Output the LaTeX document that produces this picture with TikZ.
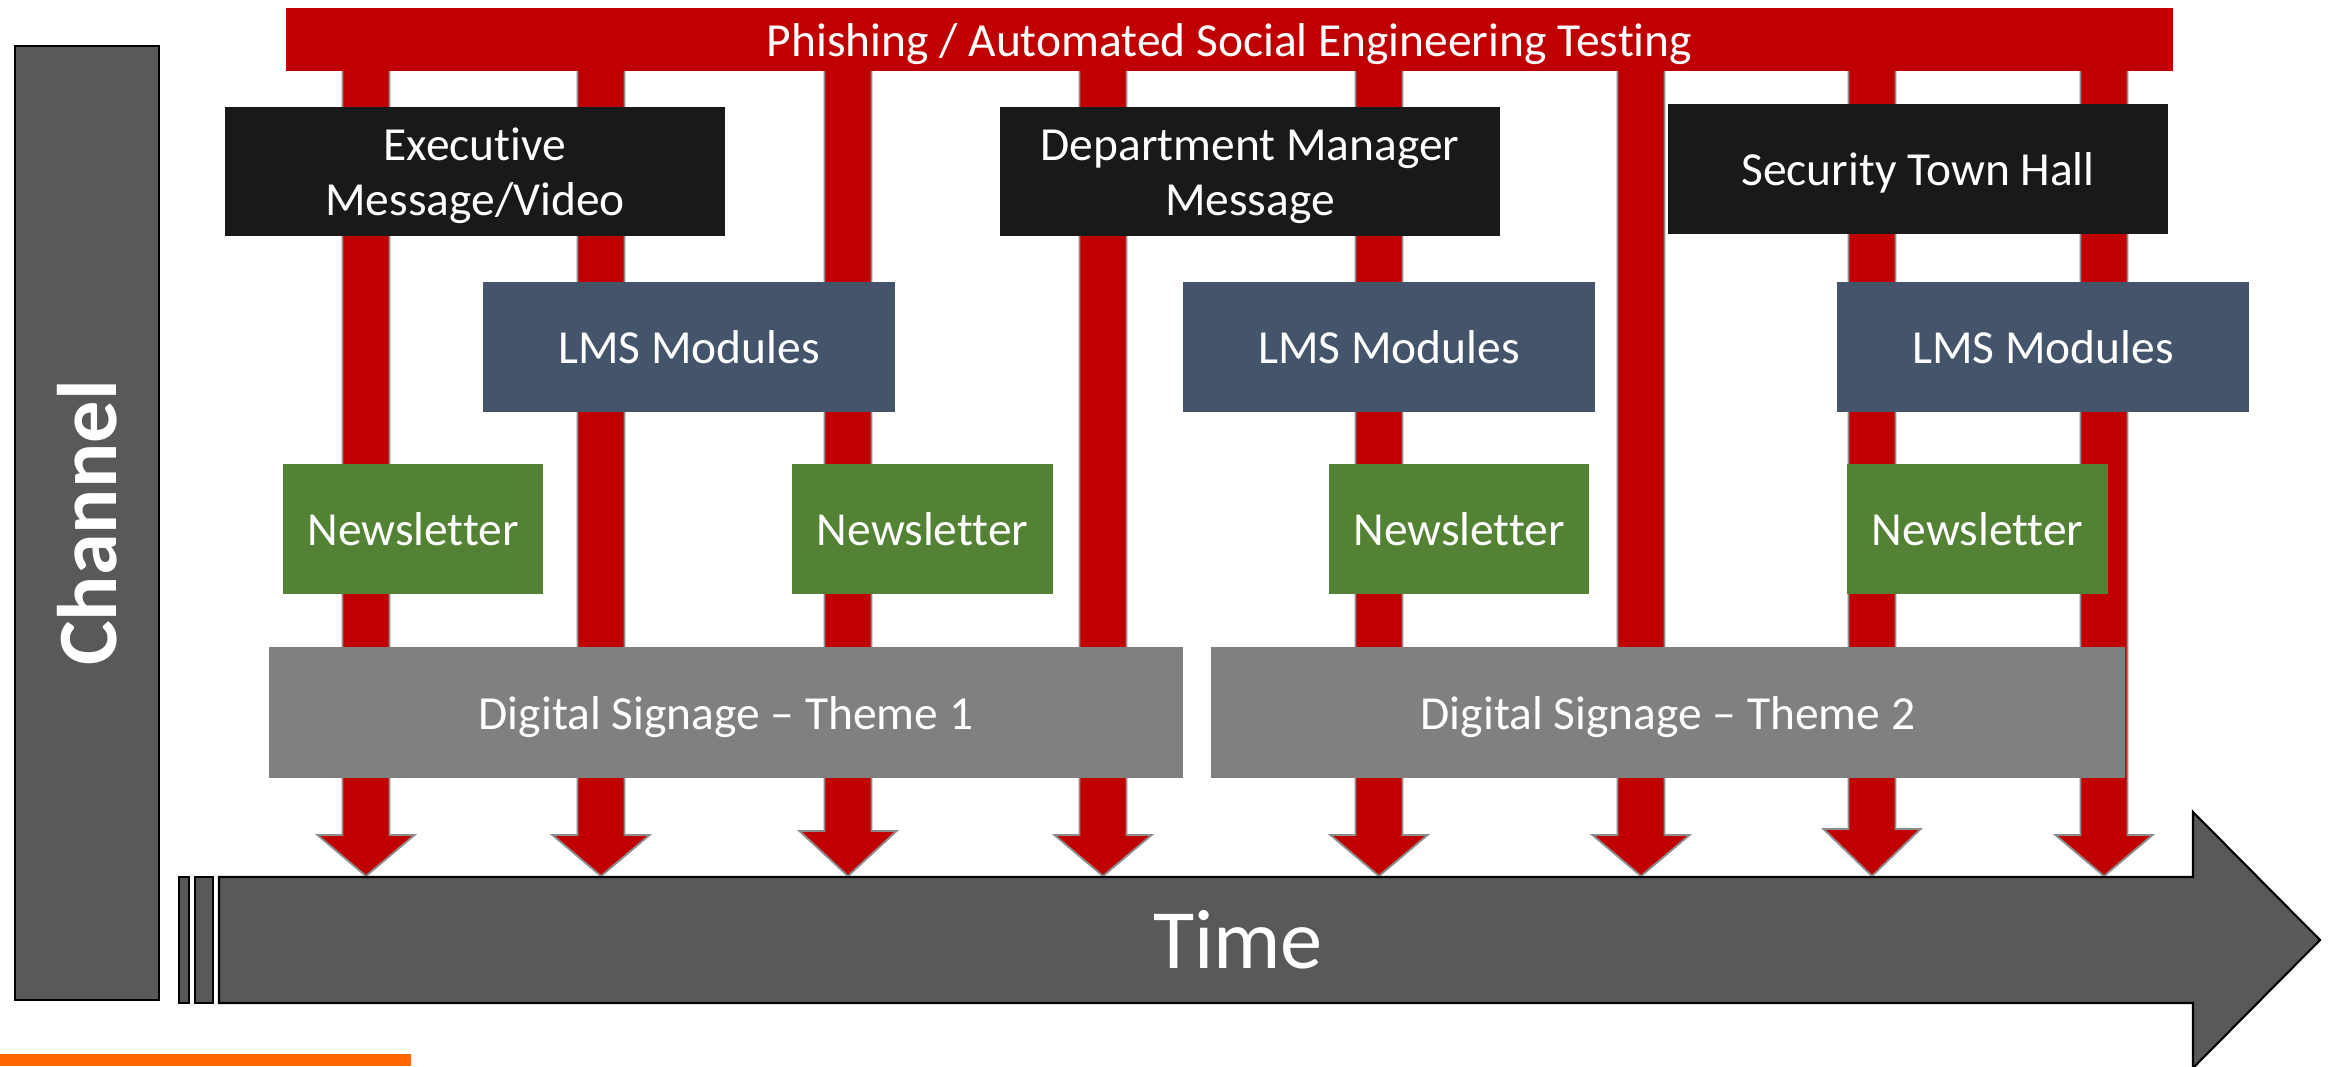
\documentclass[tikz,border=0pt]{standalone}
\usepackage{fontspec}
\setmainfont{Carlito}[Ligatures=NoCommon]
\usepackage{xcolor}
\usepackage{tikz}
\definecolor{TLRed}{HTML}{C00000}
\definecolor{TLEdge}{HTML}{8C8C8C}
\definecolor{TLBlack}{HTML}{191919}
\definecolor{TLSlate}{HTML}{44546A}
\definecolor{TLGreen}{HTML}{548235}
\definecolor{TLSign}{HTML}{808080}
\definecolor{TLDark}{HTML}{595959}
\definecolor{TLOrange}{HTML}{FF6600}
\newcommand{\tlstrut}{\rule[-0.22em]{0pt}{1.15em}}
\tikzset{
  tlbox/.style={inner sep=0pt,text=white,align=center,font=\fontsize{13.5pt}{15.7pt}\selectfont},
  msgbox/.style={tlbox,fill=TLBlack,minimum width=5cm,minimum height=1.29cm},
  lmsbox/.style={tlbox,fill=TLSlate,minimum width=4.11cm,minimum height=1.3cm},
  newsbox/.style={tlbox,fill=TLGreen,minimum width=2.6cm,minimum height=1.3cm},
  signbox/.style={tlbox,fill=TLSign,minimum width=9.14cm,minimum height=1.31cm},
  redarrow/.style={fill=TLRed,draw=TLEdge,line width=0.55pt},
  darkshape/.style={fill=TLDark,draw=black,line width=0.6pt}
}

\begin{document}
\begin{tikzpicture}[x=0.01cm,y=-0.01cm]
\path[use as bounding box] (0,0) rectangle (2333,1066);
\foreach \xa/\yh in {366/835,601/835,848/831,1103/835,1379/835,1641/835,1872/829,2104/835}
  \filldraw[redarrow] (\xa-23.5,60) -- (\xa+23.5,60) -- (\xa+23.5,\yh) -- (\xa+48.5,\yh)
    -- (\xa,876) -- (\xa-48.5,\yh) -- (\xa-23.5,\yh) -- cycle;
\node[tlbox,fill=TLRed,minimum width=18.85cm,minimum height=0.63cm] (phish) at (1229.5,39.5) {\tlstrut Phishing / Automated Social Engineering Testing};
\node[msgbox] (exec) at (475,171.5) {\tlstrut Executive\\\tlstrut Message/Video};
\node[msgbox] (dept) at (1250,171.5) {\tlstrut Department Manager\\\tlstrut Message};
\node[msgbox] (town) at (1918,169) {\tlstrut Security Town Hall};
\node[lmsbox] (lmsa) at (689,347) {\tlstrut LMS Modules};
\node[lmsbox] (lmsb) at (1389,347) {\tlstrut LMS Modules};
\node[lmsbox] (lmsc) at (2043,347) {\tlstrut LMS Modules};
\node[newsbox] (newsa) at (413,529) {\tlstrut Newsletter};
\node[newsbox] (newsb) at (922.5,529) {\tlstrut Newsletter};
\node[newsbox] (newsc) at (1459,529) {\tlstrut Newsletter};
\node[newsbox] (newsd) at (1977.5,529) {\tlstrut Newsletter};
\node[signbox] (signa) at (726,712.5) {\tlstrut Digital Signage – Theme 1};
\node[signbox] (signb) at (1668,712.5) {\tlstrut Digital Signage – Theme 2};
\node[darkshape,rotate=90,minimum width=9.54cm,minimum height=1.44cm,inner sep=0pt,text=white,font=\bfseries\fontsize{24pt}{28pt}\selectfont] (channel) at (87,523) {Channel};
\filldraw[darkshape] (179,877) rectangle (189,1003);
\filldraw[darkshape] (195,877) rectangle (213,1003);
\filldraw[darkshape] (219,877) -- (2193,877) -- (2193,812) -- (2320,940) -- (2193,1068) -- (2193,1003) -- (219,1003) -- cycle;
\node[text=white,font=\fontsize{24pt}{28pt}\selectfont] (time) at (1238,940) {Time};
\fill[TLOrange] (0,1054) rectangle (411,1066);
\end{tikzpicture}
\end{document}
